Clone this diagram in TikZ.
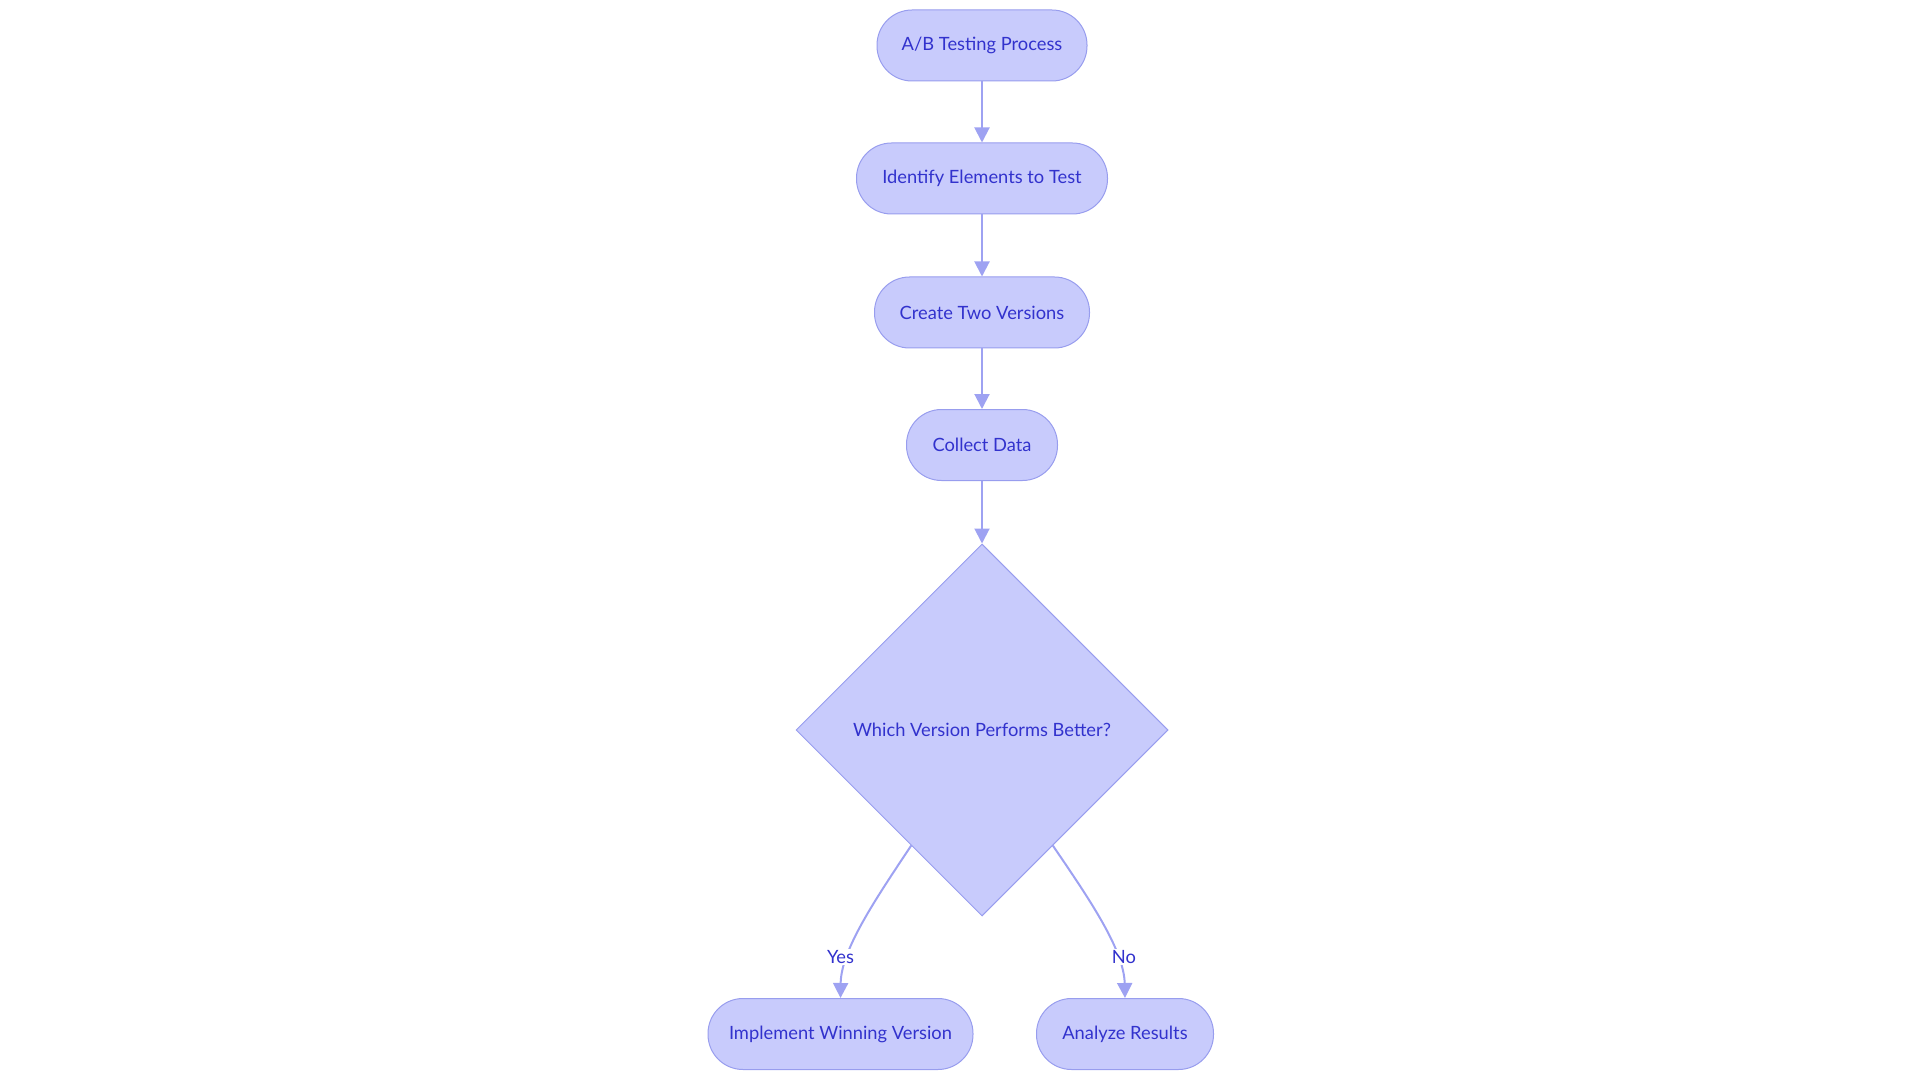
\documentclass[tikz,border=0pt]{standalone}
\usepackage{fontspec}
\setmainfont{Lato}
\usetikzlibrary{shapes.geometric,arrows.meta,calc}
\definecolor{nodefill}{RGB}{200,203,252}
\definecolor{nodeline}{RGB}{152,157,238}
\definecolor{edgecol}{RGB}{158,162,242}
\definecolor{txtcol}{RGB}{50,50,205}
\tikzset{
  pill/.style={draw=nodeline, fill=nodefill, line width=1pt, rounded corners=35pt,
    minimum height=71pt, inner sep=0pt, text=txtcol, font=\fontsize{18.3}{22}\selectfont},
  decision/.style={diamond, draw=nodeline, fill=nodefill, line width=1pt,
    minimum width=372pt, minimum height=372pt, inner sep=0pt, text=txtcol,
    font=\fontsize{18.3}{22}\selectfont},
  flow/.style={draw=edgecol, line width=2pt, -{Triangle[length=15pt,width=15pt]}},
  elabel/.style={fill=white, inner sep=1.5pt, text=txtcol, font=\fontsize{18.3}{22}\selectfont}
}
\begin{document}
\begin{tikzpicture}[x=1pt,y=-1pt]
\useasboundingbox (0,0) rectangle (1920,1083);
\node[pill, minimum width=210pt] (ab) at (982,45.5) {A/B Testing Process};
\node[pill, minimum width=251pt] (ident) at (982,178.5) {Identify Elements to Test};
\node[pill, minimum width=215pt] (create) at (982,312.5) {Create Two Versions};
\node[pill, minimum width=151pt] (collect) at (982,445) {Collect Data};
\node[decision] (dec) at (982,730) {Which Version Performs Better?};
\node[pill, minimum width=265pt] (impl) at (840.5,1034) {Implement Winning Version};
\node[pill, minimum width=177pt] (anal) at (1125,1034) {Analyze Results};

\draw[flow] (ab) -- (ident);
\draw[flow] (ident) -- (create);
\draw[flow] (create) -- (collect);
\draw[flow] (collect) -- (dec);

\coordinate (yesstart) at ($(dec.west)!0.62!(dec.south)$);
\coordinate (nostart) at ($(dec.east)!0.62!(dec.south)$);
\draw[flow] (yesstart) .. controls (875,900) and (841,950) .. (impl.north);
\draw[flow] (nostart) .. controls (1090,900) and (1124,950) .. (anal.north);
\node[elabel] (yes) at (840.5,957) {Yes};
\node[elabel] (no) at (1124,957) {No};
\end{tikzpicture}
\end{document}
